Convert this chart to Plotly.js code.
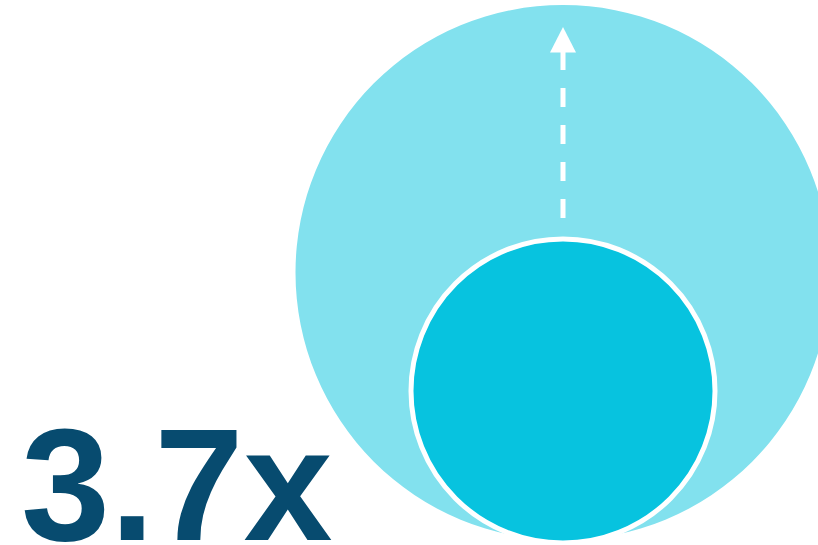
<!DOCTYPE html>
<html>
<head>
<meta charset="utf-8">
<script src="https://cdn.plot.ly/plotly-3.0.1.min.js"></script>
<style>html,body{margin:0;padding:0;background:#fff;}#chart{width:818px;height:545px;}</style>
</head>
<body>
<div id="chart"></div>
<script>
// Data
var labels = ["Before", "After"];
var multiplier = 3.7;
var multiplierLabel = "3.7x";

// Geometry (pixel-like data units)
var W = 818, H = 545;
var cx = 563;
var big = {cy: 272.5, r: 267.5};
var small = {cy: 391, r: 152};

var shapes = [
  {type: 'circle', xref: 'x', yref: 'y', x0: cx - big.r, x1: cx + big.r, y0: big.cy - big.r, y1: big.cy + big.r,
   fillcolor: '#82E1EE', line: {width: 0}, layer: 'below'},
  {type: 'circle', xref: 'x', yref: 'y', x0: cx - small.r, x1: cx + small.r, y0: small.cy - small.r, y1: small.cy + small.r,
   fillcolor: '#07C3DF', line: {color: '#ffffff', width: 5}},
  {type: 'line', xref: 'x', yref: 'y', x0: cx, x1: cx, y0: 51, y1: 219,
   line: {color: '#ffffff', width: 5, dash: '19px,18px'}},
  {type: 'path', xref: 'x', yref: 'y', path: 'M ' + cx + ' 27 L ' + (cx - 13) + ' 52.5 L ' + (cx + 13) + ' 52.5 Z',
   fillcolor: '#ffffff', line: {width: 0}}
];

var layout = {
  width: W, height: H,
  margin: {l: 0, r: 0, t: 0, b: 0},
  paper_bgcolor: '#ffffff', plot_bgcolor: '#ffffff',
  xaxis: {range: [0, W], visible: false, fixedrange: true},
  yaxis: {range: [H, 0], visible: false, fixedrange: true},
  showlegend: false,
  shapes: shapes,
  annotations: [{
    xref: 'paper', yref: 'paper', x: 0, y: 0, xanchor: 'left', yanchor: 'bottom',
    xshift: 19, yshift: -31,
    text: '<b>' + multiplierLabel + '</b>', showarrow: false,
    font: {family: 'Liberation Sans, Arial, sans-serif', size: 160, color: '#074B6F'}
  }]
};

Plotly.newPlot('chart', [{x: [], y: [], type: 'scatter', hoverinfo: 'skip'}], layout, {staticPlot: true, displayModeBar: false});
</script>
</body>
</html>
